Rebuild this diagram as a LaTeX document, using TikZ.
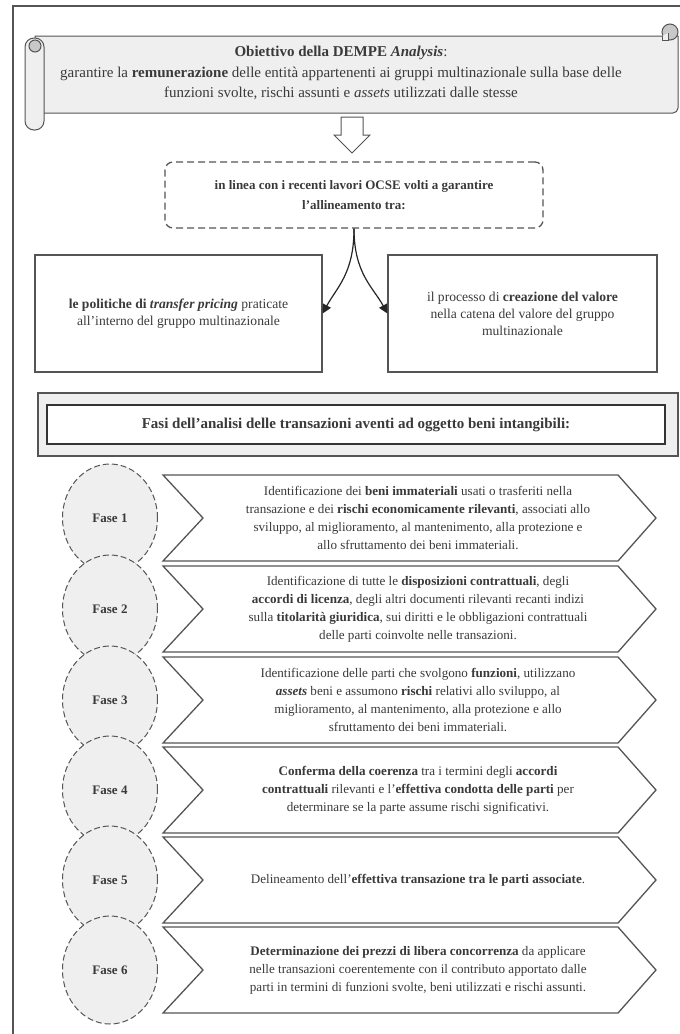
\documentclass[tikz,border=0pt]{standalone}
\usepackage{fontspec}
\setmainfont{Liberation Serif}
\usetikzlibrary{shapes.geometric,arrows.meta}
\definecolor{txt}{HTML}{3A3A3A}
\definecolor{ln}{HTML}{555555}
\definecolor{fillg}{HTML}{EFEFEF}
\definecolor{rollg}{HTML}{C8C8C8}
\tikzset{
  frameline/.style={ln, line width=1.2pt},
  scrollline/.style={ln, line width=1pt},
  bodytext/.style={text=txt, align=center, inner sep=0pt, font=\fontsize{13.1}{18}\selectfont},
  ocsebox/.style={draw=ln, dashed, dash pattern=on 7pt off 4pt, line width=1.3pt, rounded corners=8pt,
     minimum width=378pt, minimum height=66pt, align=center, text=txt, font=\bfseries\fontsize{13}{20}\selectfont},
  sidebox/.style={draw=ln, line width=1.3pt, minimum height=117pt, align=center, text=txt,
     font=\fontsize{13.6}{17}\selectfont},
  curvearrow/.style={black!85, line width=1.2pt, -{Triangle[length=9pt,width=9pt]}},
  chev/.style={ln, line width=1.3pt, fill=white},
  faseoval/.style={ellipse, draw=ln, dashed, dash pattern=on 6pt off 3pt, line width=1pt, fill=fillg,
     minimum width=95pt, minimum height=108pt, text=txt, font=\bfseries\fontsize{13}{15}\selectfont},
}
\begin{document}
\begin{tikzpicture}[x=1pt,y=-1pt]
\useasboundingbox (0,0) rectangle (680,1034);
% outer frame
\draw[frameline] (680,6) -- (13,6) -- (13,1034);
% scroll
\draw[scrollline, fill=fillg] (35,36) -- (666,36) -- (678,36) [rounded corners=5pt] -- (678,113) -- (35,113) [sharp corners] -- cycle;
\draw[scrollline, fill=rollg] (670,32) circle (8);
\draw[scrollline, fill=fillg] (662,36) -- (662,40) -- (668,40) -- (668,33);
\draw[scrollline, fill=fillg, rounded corners=9pt] (25,38) rectangle (44,130);
\draw[scrollline, fill=rollg] (35,46) circle (6);
\node[text=txt, align=center, font=\fontsize{15}{20.5}\selectfont] (goal) at (341,73)
  {\textbf{Obiettivo della DEMPE \textit{Analysis}}:\\
   garantire la \textbf{remunerazione} delle entità appartenenti ai gruppi multinazionale sulla base delle\\
   funzioni svolte, rischi assunti e \textit{assets} utilizzati dalle stesse};
% hollow arrow
\draw[scrollline, fill=white] (341,117) -- (363,117) -- (363,135) -- (370,135) -- (352,153) -- (334,135) -- (341,135) -- cycle;
% OCSE box
\node[ocsebox] (ocse) at (354,195) {in linea con i recenti lavori OCSE volti a garantire\\l’allineamento tra:};
% side boxes
\node[sidebox, minimum width=287pt] (lbox) at (178.5,313.5)
  {\textbf{le politiche di \textit{transfer pricing}} praticate\\all’interno del gruppo multinazionale};
\node[sidebox, minimum width=269pt] (rbox) at (522.5,313.5)
  {il processo di \textbf{creazione del valore}\\nella catena del valore del gruppo\\multinazionale};
\draw[curvearrow] (ocse.south) .. controls +(0,45) and +(14,-26) .. (lbox.east);
\draw[curvearrow] (ocse.south) .. controls +(0,45) and +(-14,-26) .. (rbox.west);
% Fasi title
\node[draw=ln, line width=1.2pt, fill=fillg, minimum width=640pt, minimum height=63pt] (fasiout) at (358,424.5) {};
\node[draw=black!80, line width=1.4pt, fill=white, minimum width=618pt, minimum height=39pt, text=txt,
  font=\bfseries\fontsize{15}{17}\selectfont] (fasi) at (356,424.5)
  {Fasi dell’analisi delle transazioni aventi ad oggetto beni intangibili:};
% phases
\foreach \i/\y/\t in {
 1/518/{Identificazione dei \textbf{beni immateriali} usati o trasferiti nella\\ transazione e dei \textbf{rischi economicamente rilevanti}, associati allo\\ sviluppo, al miglioramento, al mantenimento, alla protezione e\\ allo sfruttamento dei beni immateriali.},
 2/609/{Identificazione di tutte le \textbf{disposizioni contrattuali}, degli\\ \textbf{accordi di licenza}, degli altri documenti rilevanti recanti indizi\\ sulla \textbf{titolarità giuridica}, sui diritti e le obbligazioni contrattuali\\ delle parti coinvolte nelle transazioni.},
 3/700/{Identificazione delle parti che svolgono \textbf{funzioni}, utilizzano\\ \textbf{\textit{assets}} beni e assumono \textbf{rischi} relativi allo sviluppo, al\\ miglioramento, al mantenimento, alla protezione e allo\\ sfruttamento dei beni immateriali.},
 4/790/{\textbf{Conferma della coerenza} tra i termini degli \textbf{accordi}\\ \textbf{contrattuali} rilevanti e l’\textbf{effettiva condotta delle parti} per\\ determinare se la parte assume rischi significativi.},
 5/880/{Delineamento dell’\textbf{effettiva transazione tra le parti associate}.},
 6/970/{\textbf{Determinazione dei prezzi di libera concorrenza} da applicare\\ nelle transazioni coerentemente con il contributo apportato dalle\\ parti in termini di funzioni svolte, beni utilizzati e rischi assunti.}}{
  \node[faseoval] (f\i) at (110,\y) {Fase \i};
  \draw[chev] (163,\y-43) -- (618,\y-43) -- (656,\y) -- (618,\y+43) -- (163,\y+43) -- (203,\y) -- cycle;
  \node[bodytext] (t\i) at (418,\y) {\t};
}
\end{tikzpicture}
\end{document}
